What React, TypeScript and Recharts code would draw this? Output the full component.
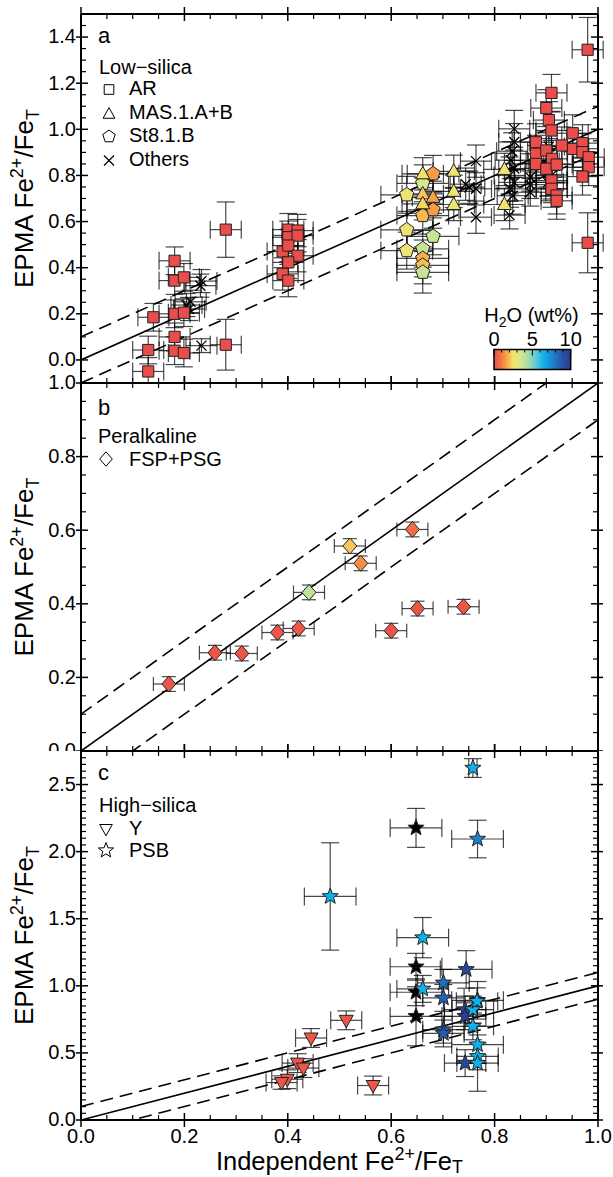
import React from 'react';
import { ScatterChart, Scatter, XAxis, YAxis, ErrorBar, ReferenceLine } from 'recharts';

type P4 = [number, number, number, number];
type P5 = [number, number, number, number, number];

// ---------- Panel a : low-silica ----------
// [x, y, xErr, yErr]
const AR: P4[] = [
  [0.140, 0.185, 0.03, 0.06], [0.130, 0.043, 0.03, 0.06], [0.130, -0.05, 0.03, 0.06],
  [0.181, 0.430, 0.03, 0.06], [0.181, 0.344, 0.03, 0.06], [0.199, 0.358, 0.03, 0.06],
  [0.181, 0.200, 0.03, 0.06], [0.199, 0.205, 0.03, 0.06], [0.181, 0.100, 0.03, 0.06],
  [0.181, 0.040, 0.03, 0.06], [0.199, 0.030, 0.03, 0.06],
  [0.280, 0.565, 0.03, 0.12], [0.280, 0.066, 0.03, 0.11],
  [0.401, 0.565, 0.03, 0.07], [0.419, 0.561, 0.03, 0.07], [0.401, 0.532, 0.03, 0.07],
  [0.419, 0.539, 0.03, 0.07], [0.390, 0.470, 0.03, 0.07], [0.401, 0.496, 0.03, 0.07],
  [0.419, 0.452, 0.03, 0.07], [0.401, 0.423, 0.03, 0.07], [0.390, 0.373, 0.03, 0.07],
  [0.401, 0.344, 0.03, 0.07],
  [0.910, 1.158, 0.03, 0.08], [0.900, 1.092, 0.03, 0.08], [0.905, 1.040, 0.03, 0.08],
  [0.910, 0.995, 0.03, 0.08], [0.880, 0.944, 0.03, 0.08], [0.880, 0.894, 0.03, 0.08],
  [0.900, 0.908, 0.03, 0.08], [0.911, 0.872, 0.03, 0.08], [0.880, 0.850, 0.03, 0.08],
  [0.900, 0.829, 0.03, 0.08], [0.920, 0.847, 0.03, 0.08], [0.910, 0.778, 0.03, 0.08],
  [0.910, 0.742, 0.03, 0.08], [0.920, 0.713, 0.03, 0.08], [0.920, 0.690, 0.03, 0.08],
  [0.951, 0.983, 0.03, 0.08], [0.951, 0.915, 0.03, 0.08], [0.970, 0.940, 0.03, 0.08],
  [0.970, 0.901, 0.03, 0.08], [0.982, 0.879, 0.03, 0.08], [0.982, 0.836, 0.03, 0.08],
  [0.970, 0.795, 0.03, 0.08], [0.930, 0.930, 0.03, 0.08],
  [0.980, 1.345, 0.03, 0.14], [0.980, 0.508, 0.03, 0.13],
];

// [x, y, xErr, yErr, H2O wt%]
const MAS: P5[] = [
  [0.661, 0.807, 0.04, 0.07, 2.6], [0.661, 0.720, 0.04, 0.07, 2.1], [0.681, 0.705, 0.04, 0.07, 1.6],
  [0.661, 0.677, 0.04, 0.07, 2.3], [0.721, 0.818, 0.04, 0.07, 2.8], [0.721, 0.731, 0.04, 0.07, 2.8],
  [0.721, 0.674, 0.04, 0.07, 2.8], [0.819, 0.826, 0.04, 0.07, 2.6], [0.819, 0.674, 0.04, 0.07, 2.6],
];

const ST8: P5[] = [
  [0.630, 0.716, 0.05, 0.08, 2.8], [0.630, 0.564, 0.05, 0.08, 2.8], [0.630, 0.474, 0.05, 0.08, 2.8],
  [0.661, 0.766, 0.05, 0.08, 3.5], [0.661, 0.626, 0.05, 0.08, 1.9], [0.661, 0.482, 0.05, 0.08, 3.8],
  [0.661, 0.440, 0.05, 0.08, 1.8], [0.661, 0.410, 0.05, 0.08, 2.0], [0.661, 0.380, 0.05, 0.09, 3.8],
  [0.681, 0.807, 0.05, 0.08, 1.5], [0.681, 0.651, 0.05, 0.08, 1.5], [0.681, 0.536, 0.05, 0.08, 3.8],
];

const OTHERS: P4[] = [
  [0.231, 0.322, 0.03, 0.05], [0.233, 0.342, 0.03, 0.05], [0.212, 0.252, 0.03, 0.05],
  [0.209, 0.221, 0.03, 0.05], [0.204, 0.238, 0.03, 0.05], [0.233, 0.062, 0.03, 0.03],
  [0.764, 0.862, 0.03, 0.07], [0.764, 0.742, 0.03, 0.07], [0.751, 0.749, 0.03, 0.07],
  [0.744, 0.762, 0.03, 0.07], [0.764, 0.619, 0.03, 0.07],
  [0.838, 1.002, 0.03, 0.08], [0.838, 0.945, 0.03, 0.08], [0.834, 0.905, 0.03, 0.08],
  [0.831, 0.866, 0.03, 0.08], [0.838, 0.830, 0.03, 0.08], [0.829, 0.800, 0.03, 0.08],
  [0.838, 0.770, 0.03, 0.08], [0.830, 0.742, 0.03, 0.08], [0.835, 0.712, 0.03, 0.08],
  [0.829, 0.628, 0.03, 0.06], [0.869, 0.792, 0.03, 0.06], [0.869, 0.760, 0.03, 0.06],
  [0.869, 0.727, 0.03, 0.06], [0.911, 0.802, 0.03, 0.06], [0.903, 0.770, 0.03, 0.06],
  [0.911, 0.742, 0.03, 0.06], [0.895, 0.860, 0.03, 0.06], [0.905, 0.925, 0.03, 0.06],
];

// ---------- Panel b : peralkaline ----------
const FSP: P5[] = [
  [0.170, 0.182, 0.03, 0.02, 0.2], [0.259, 0.267, 0.03, 0.02, 0.2], [0.311, 0.265, 0.03, 0.02, 0.2],
  [0.380, 0.322, 0.03, 0.02, 0.2], [0.421, 0.333, 0.03, 0.02, 0.2], [0.441, 0.431, 0.03, 0.02, 4.0],
  [0.520, 0.557, 0.03, 0.02, 2.1], [0.541, 0.510, 0.03, 0.02, 1.3], [0.600, 0.327, 0.03, 0.02, 0.2],
  [0.641, 0.602, 0.03, 0.02, 0.7], [0.651, 0.387, 0.03, 0.02, 0.2], [0.740, 0.392, 0.03, 0.02, 0.2],
];

// ---------- Panel c : high-silica ----------
const YPTS: P5[] = [
  [0.513, 0.743, 0.03, 0.07, 0.2], [0.445, 0.611, 0.03, 0.07, 0.2], [0.419, 0.424, 0.03, 0.07, 0.2],
  [0.430, 0.387, 0.03, 0.07, 0.2], [0.399, 0.304, 0.03, 0.07, 0.2], [0.388, 0.279, 0.03, 0.05, 0.2],
  [0.565, 0.257, 0.03, 0.07, 0.2],
];

// H2O = -1 : not measured (black)
const PSB: P5[] = [
  [0.758, 2.623, 0.008, 0.07, 6.5], [0.648, 2.177, 0.05, 0.145, -1], [0.767, 2.094, 0.05, 0.14, 7.7],
  [0.482, 1.666, 0.05, 0.40, 6.5], [0.661, 1.359, 0.05, 0.15, 6.5], [0.648, 1.142, 0.05, 0.10, -1],
  [0.648, 0.952, 0.05, 0.10, -1], [0.661, 0.977, 0.05, 0.10, 6.5], [0.648, 0.773, 0.05, 0.22, -1],
  [0.745, 1.122, 0.05, 0.14, 9.5], [0.701, 1.022, 0.05, 0.10, 8.2], [0.701, 0.910, 0.04, 0.10, 8.5],
  [0.701, 0.673, 0.04, 0.10, 8.5], [0.701, 0.645, 0.04, 0.10, 8.8], [0.767, 0.892, 0.05, 0.14, 7.5],
  [0.743, 0.823, 0.04, 0.10, 9.5], [0.743, 0.773, 0.04, 0.10, 9.8], [0.758, 0.823, 0.04, 0.10, 6.5],
  [0.758, 0.698, 0.04, 0.10, 6.5], [0.767, 0.561, 0.05, 0.14, 6.5], [0.767, 0.474, 0.04, 0.10, 6.5],
  [0.743, 0.424, 0.04, 0.10, 9.5], [0.767, 0.424, 0.04, 0.21, 6.5], [0.766, 0.885, 0.04, 0.10, 6.5],
];

// ---------- axes ----------
const X_MAJOR = [0, 0.2, 0.4, 0.6, 0.8, 1.0];
const A_Y_MAJOR = [0, 0.2, 0.4, 0.6, 0.8, 1.0, 1.2, 1.4];
const B_Y_MAJOR = [0, 0.2, 0.4, 0.6, 0.8, 1.0];
const C_Y_MAJOR = [0, 0.5, 1.0, 1.5, 2.0, 2.5];
const A_DOMAIN: [number, number] = [-0.1, 1.5];
const B_DOMAIN: [number, number] = [0, 1];
const C_DOMAIN: [number, number] = [0, 2.75];
const FIT_OFFSETS = [0, 0.1, -0.1]; // 1:1 line and +/-0.1 envelope
const H2O_TICKS = [0, 5, 10];

// colour scale for H2O (wt%)
const H2O_STOPS: [number, string][] = [
  [0, '#ea4d4a'], [1, '#f27a44'], [1.7, '#f8a84a'], [2.5, '#f5e26c'], [3.5, '#d6e88c'],
  [4.5, '#a4dcaa'], [5.5, '#5cc8da'], [6.5, '#10b0ea'], [7.5, '#1a88d2'], [8.5, '#2462b4'], [10, '#2c3a8a'],
];

const FONT = 'Liberation Sans, Arial, Helvetica, sans-serif';

const hex = (c: string) => [1, 3, 5].map((i) => parseInt(c.slice(i, i + 2), 16));
function h2oColor(h: number): string {
  if (h < 0) return '#000000';
  for (let i = 0; i < H2O_STOPS.length - 1; i++) {
    const [h0, c0] = H2O_STOPS[i];
    const [h1, c1] = H2O_STOPS[i + 1];
    if (h <= h1) {
      const t = Math.max(0, (h - h0) / (h1 - h0));
      const a = hex(c0), b = hex(c1);
      return `rgb(${a.map((v, k) => Math.round(v + (b[k] - v) * t)).join(',')})`;
    }
  }
  return H2O_STOPS[H2O_STOPS.length - 1][1];
}

const range = (a: number, b: number, s: number) => {
  const n = Math.round((b - a) / s);
  return Array.from({ length: n + 1 }, (_, i) => +(a + i * s).toFixed(4));
};

const X_TICKS = range(0, 1, 0.05);
const A_Y_TICKS = range(-0.1, 1.5, 0.05);
const B_Y_TICKS = range(0, 1, 0.05);
const C_Y_TICKS = range(0, 2.75, 0.05);

const toRows4 = (a: P4[]) => a.map(([x, y, ex, ey]) => ({ x, y, ex, ey, h: 0 }));
const toRows5 = (a: P5[]) => a.map(([x, y, ex, ey, h]) => ({ x, y, ex, ey, h }));

// ---------- marker shapes ----------
const SW = 1;
const squarePath = (cx: number, cy: number, s = 5.6) => `M${cx - s},${cy - s}h${2 * s}v${2 * s}h${-2 * s}Z`;
const triUpPath = (cx: number, cy: number, s = 1) =>
  `M${cx},${cy - 7.5 * s}L${cx + 7 * s},${cy + 5 * s}L${cx - 7 * s},${cy + 5 * s}Z`;
const triDownPath = (cx: number, cy: number, s = 1) =>
  `M${cx - 7 * s},${cy - 5 * s}L${cx + 7 * s},${cy - 5 * s}L${cx},${cy + 7.5 * s}Z`;
const diamondPath = (cx: number, cy: number, s = 1) =>
  `M${cx},${cy - 8 * s}L${cx + 7 * s},${cy}L${cx},${cy + 8 * s}L${cx - 7 * s},${cy}Z`;
const polyPath = (cx: number, cy: number, n: number, R: number, r?: number) => {
  const pts: string[] = [];
  const k = r === undefined ? n : 2 * n;
  for (let i = 0; i < k; i++) {
    const rad = r === undefined ? R : i % 2 === 0 ? R : r;
    const a = -Math.PI / 2 + (i * 2 * Math.PI) / k;
    pts.push(`${(cx + rad * Math.cos(a)).toFixed(2)},${(cy + rad * Math.sin(a)).toFixed(2)}`);
  }
  return `M${pts.join('L')}Z`;
};
const pentaPath = (cx: number, cy: number, R = 7.5) => polyPath(cx, cy, 5, R);
const starPath = (cx: number, cy: number, R = 8.5) => polyPath(cx, cy, 5, R, R * 0.42);
const crossPath = (cx: number, cy: number, s = 5) =>
  `M${cx - s},${cy - s}L${cx + s},${cy + s}M${cx - s},${cy + s}L${cx + s},${cy - s}`;

const shapeSquare = (p: any) => <path d={squarePath(p.cx, p.cy)} fill={h2oColor(0)} stroke="#222" strokeWidth={SW} />;
const shapeTri = (p: any) => <path d={triUpPath(p.cx, p.cy)} fill={h2oColor(p.payload.h)} stroke="#222" strokeWidth={SW} />;
const shapePenta = (p: any) => <path d={pentaPath(p.cx, p.cy)} fill={h2oColor(p.payload.h)} stroke="#222" strokeWidth={SW} />;
const shapeCross = (p: any) => <path d={crossPath(p.cx, p.cy)} fill="none" stroke="#000" strokeWidth={1.3} />;
const shapeDiamond = (p: any) => <path d={diamondPath(p.cx, p.cy)} fill={h2oColor(p.payload.h)} stroke="#222" strokeWidth={SW} />;
const shapeTriDown = (p: any) => <path d={triDownPath(p.cx, p.cy)} fill={h2oColor(p.payload.h)} stroke="#222" strokeWidth={SW} />;
const shapeStar = (p: any) => <path d={starPath(p.cx, p.cy)} fill={h2oColor(p.payload.h)} stroke="#222" strokeWidth={SW} />;

// ---------- ticks ----------
type Side = 'left' | 'right' | 'top' | 'bottom';
const mkTick = (side: Side, majors: number[], showLabel: boolean) => (props: any) => {
  const { x, y, payload } = props;
  const v = payload.value as number;
  const major = majors.some((m) => Math.abs(m - v) < 1e-6);
  let c: number[];
  if (side === 'bottom') c = major ? [x, y - 7, x, y + 7] : [x, y - 5, x, y];
  else if (side === 'top') c = major ? [x, y - 7, x, y + 7] : [x, y, x, y + 5];
  else if (side === 'left') c = major ? [x - 5, y, x + 7, y] : [x, y, x + 5, y];
  else c = major ? [x - 7, y, x + 5, y] : [x - 5, y, x, y];
  return (
    <g>
      <line x1={c[0]} y1={c[1]} x2={c[2]} y2={c[3]} stroke="#000" strokeWidth={major ? 1.5 : 1.2} />
      {major && showLabel && side === 'bottom' && (
        <text x={x} y={y + 22.5} textAnchor="middle" fontSize={20} fontFamily={FONT} fill="#000">
          {v.toFixed(1)}
        </text>
      )}
      {major && showLabel && side === 'left' && (
        <text x={x - 5} y={y} dy="0.32em" textAnchor="end" fontSize={20} fontFamily={FONT} fill="#000">
          {v.toFixed(1)}
        </text>
      )}
    </g>
  );
};

const AXIS_LINE = { stroke: '#000', strokeWidth: 2 };

const errBars = (w: number) => [
  <ErrorBar key="ex" dataKey="ex" direction="x" width={w} stroke="rgba(0,0,0,0.72)" strokeWidth={1.2} />,
  <ErrorBar key="ey" dataKey="ey" direction="y" width={w} stroke="rgba(0,0,0,0.72)" strokeWidth={1.2} />,
];

function axesFor(yTicks: number[], yMajor: number[], domain: [number, number], xLabels: boolean) {
  return [
    <XAxis key="xb" xAxisId="x" orientation="bottom" type="number" dataKey="x" domain={[0, 1]} allowDataOverflow
      ticks={X_TICKS} interval={0} tickSize={0} tickMargin={0} tickLine={false} axisLine={AXIS_LINE} height={1}
      tick={mkTick('bottom', X_MAJOR, xLabels)} />,
    <XAxis key="xt" xAxisId="xt" orientation="top" type="number" dataKey="x" domain={[0, 1]} allowDataOverflow
      ticks={X_TICKS} interval={0} tickSize={0} tickMargin={0} tickLine={false} axisLine={AXIS_LINE} height={1}
      tick={mkTick('top', X_MAJOR, false)} />,
    <YAxis key="yl" yAxisId="y" orientation="left" type="number" dataKey="y" domain={domain} allowDataOverflow
      ticks={yTicks} interval={0} tickSize={0} tickMargin={0} tickLine={false} axisLine={AXIS_LINE} width={1}
      tick={mkTick('left', yMajor, true)} />,
    <YAxis key="yr" yAxisId="yr" orientation="right" type="number" dataKey="y" domain={domain} allowDataOverflow
      ticks={yTicks} interval={0} tickSize={0} tickMargin={0} tickLine={false} axisLine={AXIS_LINE} width={1}
      tick={mkTick('right', yMajor, false)} />,
  ];
}

const fitLines = () =>
  FIT_OFFSETS.map((o) => (
    <ReferenceLine key={`f${o}`} xAxisId="x" yAxisId="y" ifOverflow="hidden"
      segment={[{ x: 0, y: o }, { x: 1, y: 1 + o }]}
      stroke="#000" strokeWidth={1.6} strokeDasharray={o === 0 ? undefined : '13 7'} />
  ));

// plot area: x 81..598 ; panels a 14..383, b 383..751, c 751..1120
const MARGIN = { top: 0, right: 14, bottom: 0, left: 80 };

function YTitle({ cy }: { cy: number }) {
  return (
    <text transform={`translate(33, ${cy}) rotate(-90)`} textAnchor="middle" fontSize={26} fontFamily={FONT} fill="#000">
      EPMA Fe<tspan dy={-10} fontSize={18}>2+</tspan><tspan dy={10} fontSize={26}>/Fe</tspan>
      <tspan dy={6} fontSize={18}>T</tspan>
    </text>
  );
}

const LEG_FS = 20;

export default function App() {
  const arRows = toRows4(AR);
  const othRows = toRows4(OTHERS);
  const masRows = toRows5(MAS);
  const stRows = toRows5(ST8);
  const fspRows = toRows5(FSP);
  const yRows = toRows5(YPTS);
  const psbRows = toRows5(PSB);

  const cbX = 494, cbY = 349.5, cbW = 76.7, cbH = 20;
  const cbPos = (h: number) => cbX + (h / 10) * cbW;

  return (
    <div style={{ position: 'absolute', left: 0, top: 0, width: 613, height: 1177, background: '#fff', fontFamily: FONT }}>
      <style>{'.recharts-surface{overflow:visible}'}</style>
      {/* panel a */}
      <div style={{ position: 'absolute', left: 0, top: 0, width: 613, height: 383, background: '#fff' }}>
        <div style={{ position: 'absolute', left: 0, top: 13 }}>
          <ScatterChart width={613} height={371} margin={MARGIN}>
            {axesFor(A_Y_TICKS, A_Y_MAJOR, A_DOMAIN, false)}
            {fitLines()}
            <Scatter data={othRows} xAxisId="x" yAxisId="y" shape={shapeCross} isAnimationActive={false}>{errBars(9)}</Scatter>
            <Scatter data={arRows} xAxisId="x" yAxisId="y" shape={shapeSquare} isAnimationActive={false}>{errBars(9)}</Scatter>
            <Scatter data={stRows} xAxisId="x" yAxisId="y" shape={shapePenta} isAnimationActive={false}>{errBars(9)}</Scatter>
            <Scatter data={masRows} xAxisId="x" yAxisId="y" shape={shapeTri} isAnimationActive={false}>{errBars(9)}</Scatter>
          </ScatterChart>
        </div>
      </div>
      {/* panel b */}
      <div style={{ position: 'absolute', left: 0, top: 383, width: 613, height: 368, background: '#fff' }}>
        <div style={{ position: 'absolute', left: 0, top: -1 }}>
          <ScatterChart width={613} height={370} margin={MARGIN}>
            {axesFor(B_Y_TICKS, B_Y_MAJOR, B_DOMAIN, false)}
            {fitLines()}
            <Scatter data={fspRows} xAxisId="x" yAxisId="y" shape={shapeDiamond} isAnimationActive={false}>{errBars(7)}</Scatter>
          </ScatterChart>
        </div>
      </div>
      {/* panel c */}
      <div style={{ position: 'absolute', left: 0, top: 751, width: 613, height: 369, background: '#fff' }}>
        <div style={{ position: 'absolute', left: 0, top: -1 }}>
          <ScatterChart width={613} height={371} margin={MARGIN}>
            {axesFor(C_Y_TICKS, C_Y_MAJOR, C_DOMAIN, true)}
            {fitLines()}
            <Scatter data={yRows} xAxisId="x" yAxisId="y" shape={shapeTriDown} isAnimationActive={false}>{errBars(9)}</Scatter>
            <Scatter data={psbRows} xAxisId="x" yAxisId="y" shape={shapeStar} isAnimationActive={false}>{errBars(9)}</Scatter>
          </ScatterChart>
        </div>
      </div>

      {/* titles, legends, colour bar */}
      <svg width={613} height={1177} style={{ position: 'absolute', left: 0, top: 0, pointerEvents: 'none', overflow: 'visible' }}>
        <defs>
          <linearGradient id="h2oGrad" x1="0" x2="1" y1="0" y2="0">
            {H2O_STOPS.map(([h, c]) => (
              <stop key={h} offset={`${(h / 10) * 100}%`} stopColor={c} />
            ))}
          </linearGradient>
        </defs>
        <YTitle cy={198.5} />
        <YTitle cy={567} />
        <YTitle cy={935.5} />
        <text x={339.4} y={1170} textAnchor="middle" fontSize={25.5} fontFamily={FONT} fill="#000">
          Independent Fe<tspan dy={-10} fontSize={18}>2+</tspan><tspan dy={10} fontSize={25.5}>/Fe</tspan>
          <tspan dy={3} fontSize={18}>T</tspan>
        </text>

        {/* legends */}
        <g fontFamily={FONT} fontSize={LEG_FS} fill="#000">
          <text x={98} y={43} fontSize={22}>a</text>
          <text x={99} y={74}>Low−silica</text>
          <path d={squarePath(109, 89.5, 4.8)} fill="#fff" stroke="#000" strokeWidth={1} />
          <text x={129} y={95}>AR</text>
          <path d={triUpPath(109, 114, 0.85)} fill="#fff" stroke="#000" strokeWidth={1} />
          <text x={129} y={119}>MAS.1.A+B</text>
          <path d={pentaPath(109, 136.5, 6.5)} fill="#fff" stroke="#000" strokeWidth={1} />
          <text x={129} y={142}>St8.1.B</text>
          <path d={crossPath(109, 160.5, 5)} fill="none" stroke="#000" strokeWidth={1.2} />
          <text x={129} y={166}>Others</text>

          <text x={98} y={415} fontSize={22}>b</text>
          <text x={98} y={443}>Peralkaline</text>
          <path d={diamondPath(106, 459, 0.9)} fill="#fff" stroke="#000" strokeWidth={1} />
          <text x={129} y={466}>FSP+PSG</text>

          <text x={98} y={780} fontSize={22}>c</text>
          <text x={99} y={812}>High−silica</text>
          <path d={triDownPath(106, 829, 0.9)} fill="#fff" stroke="#000" strokeWidth={1} />
          <text x={129} y={835}>Y</text>
          <path d={starPath(106, 850.5, 8)} fill="#fff" stroke="#000" strokeWidth={1} />
          <text x={129} y={857}>PSB</text>

          {/* colour bar */}
          <text x={531.5} y={321.5} textAnchor="middle">
            H<tspan dy={5} fontSize={14}>2</tspan><tspan dy={-5}>O (wt%)</tspan>
          </text>
          {H2O_TICKS.map((t) => (
            <text key={t} x={cbPos(t)} y={346} textAnchor="middle">{t}</text>
          ))}
          <rect x={cbX} y={cbY} width={cbW} height={cbH} fill="url(#h2oGrad)" stroke="#000" strokeWidth={1.5} />
          {range(0, 10, 1).map((t) => (
            <line key={t} x1={cbPos(t)} x2={cbPos(t)} y1={cbY} y2={cbY + (t % 5 === 0 ? 6 : 3)} stroke="#000" strokeWidth={1} />
          ))}
        </g>
      </svg>
    </div>
  );
}
